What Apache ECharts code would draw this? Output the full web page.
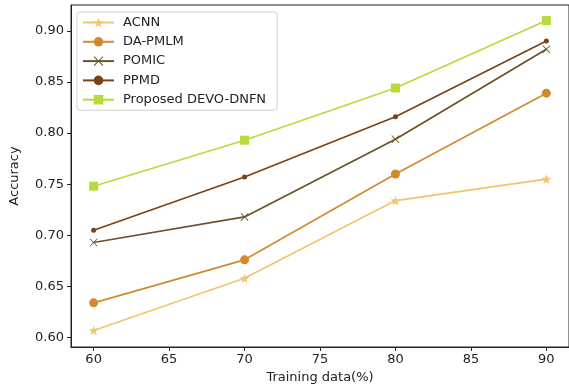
<!DOCTYPE html>
<html>
<head>
<meta charset="utf-8">
<script src="https://cdn.jsdelivr.net/npm/echarts@6/dist/echarts.min.js"></script>
<style>html,body{margin:0;padding:0;background:#fff;}#c{width:569px;height:391px;}</style>
</head>
<body>
<div id="c"></div>
<script>
var xValues = [60, 70, 80, 90];
var xTicks = [60, 65, 70, 75, 80, 85, 90];
var yTicks = [0.60, 0.65, 0.70, 0.75, 0.80, 0.85, 0.90];
var acnn = [0.607, 0.658, 0.734, 0.755];
var daPmlm = [0.634, 0.676, 0.760, 0.839];
var pomic = [0.693, 0.718, 0.794, 0.882];
var ppmd = [0.705, 0.757, 0.816, 0.890];
var proposed = [0.748, 0.793, 0.844, 0.910];

var STAR = 'path://M0,-10 L2.35,-3.24 L9.51,-3.09 L3.8,1.24 L5.88,8.09 L0,4 L-5.88,8.09 L-3.8,1.24 L-9.51,-3.09 L-2.35,-3.24 Z';
var XMARK = 'path://M-10,-8.5 L-8.5,-10 L0,-1.5 L8.5,-10 L10,-8.5 L1.5,0 L10,8.5 L8.5,10 L0,1.5 L-8.5,10 L-10,8.5 L-1.5,0 Z';

function pairs(arr){ return xValues.map(function(x,i){ return [x, arr[i]]; }); }
function mk(name, arr, color, symbol, size){
  return {
    name: name, type: 'line', data: pairs(arr),
    symbol: symbol, symbolSize: size, symbolKeepAspect: true,
    lineStyle: {color: color, width: 1.7},
    itemStyle: {color: color},
    emphasis: {disabled: true},
    animation: false
  };
}
var chart = echarts.init(document.getElementById('c'));
var font = 'DejaVu Sans';
chart.setOption({
  animation: false,
  textStyle: {fontFamily: font},
  grid: {left: 70, top: 5, width: 502, bottom: 44, show: true, borderColor: '#222', borderWidth: 1, backgroundColor: 'transparent'},
  legend: {
    orient: 'vertical', left: 77, top: 12,
    itemWidth: 31, itemHeight: 12, itemGap: 6.3,
    padding: [4, 11, 4, 5],
    backgroundColor: '#fff', borderColor: '#d0d0d0', borderWidth: 1, borderRadius: 3,
    textStyle: {fontFamily: font, fontSize: 13, color: '#222', padding: [0, 0, 0, 4]},
    data: ['ACNN', 'DA-PMLM', 'POMIC', 'PPMD', 'Proposed DEVO-DNFN']
  },
  xAxis: {
    type: 'value', min: 58.5, max: 91.5,
    name: 'Training data(%)', nameLocation: 'middle', nameGap: 24,
    nameTextStyle: {fontFamily: font, fontSize: 13, color: '#222'},
    axisLine: {show: true, lineStyle: {color: '#222'}},
    axisTick: {show: true, length: 4, customValues: xTicks, lineStyle: {color: '#222'}},
    axisLabel: {customValues: xTicks, fontFamily: font, fontSize: 13, color: '#222', margin: 6},
    splitLine: {show: false}
  },
  yAxis: {
    type: 'value', min: 0.5908, max: 0.9252,
    name: 'Accuracy', nameLocation: 'middle', nameGap: 50,
    nameTextStyle: {fontFamily: font, fontSize: 13, color: '#222'},
    axisLine: {show: true, lineStyle: {color: '#222'}},
    axisTick: {show: true, length: 4, customValues: yTicks, lineStyle: {color: '#222'}},
    axisLabel: {customValues: yTicks, fontFamily: font, fontSize: 13, color: '#222', margin: 7,
      formatter: function(v){ return v.toFixed(2); }},
    splitLine: {show: false}
  },
  series: [
    mk('ACNN', acnn, '#F3C46E', STAR, 10),
    mk('DA-PMLM', daPmlm, '#D38A2E', 'circle', 9),
    mk('POMIC', pomic, '#6B5226', XMARK, 8),
    mk('PPMD', ppmd, '#7A4216', 'circle', 5),
    mk('Proposed DEVO-DNFN', proposed, '#B7DA3C', 'rect', 9)
  ]
});
</script>
</body>
</html>
